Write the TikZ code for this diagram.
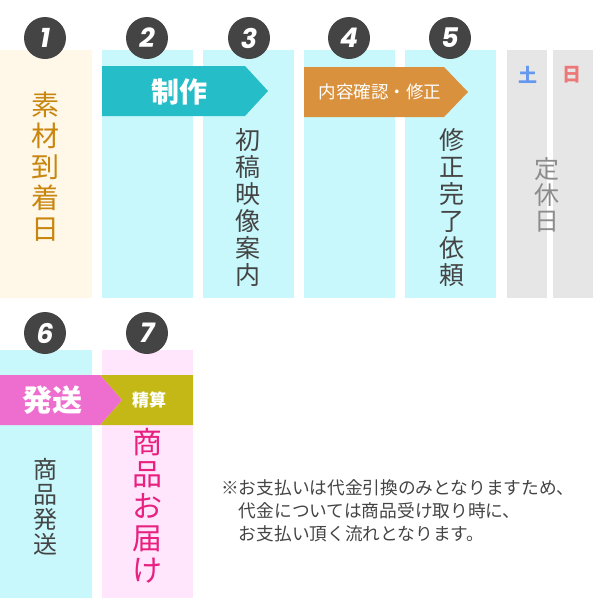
\documentclass[tikz,border=0pt]{standalone}
\usepackage{fontspec}
\setmainfont{Noto Sans CJK JP}
\newfontfamily\numfont{Poppins}
\definecolor{beige}{HTML}{FFF7E8}
\definecolor{lcyan}{HTML}{C8F8FC}
\definecolor{lpink}{HTML}{FFE6FC}
\definecolor{lgray}{HTML}{E6E6E6}
\definecolor{teal}{HTML}{25BDC8}
\definecolor{orng}{HTML}{D9913E}
\definecolor{pinkar}{HTML}{EE6ECF}
\definecolor{olive}{HTML}{C4B816}
\definecolor{gold}{HTML}{C8860F}
\definecolor{dgray}{HTML}{444444}
\definecolor{mag}{HTML}{E8207F}
\tikzset{
  stepnum/.style={circle, fill=dgray, minimum size=42pt, inner sep=0pt, text=white, font=\numfont\bfseries\itshape\fontsize{27}{27}\selectfont},
  vtext/.style={align=center, inner sep=0pt, text=dgray, font=\fontsize{25}{27}\selectfont},
  bandtext/.style={text=white, inner sep=0pt}
}
\begin{document}
\begin{tikzpicture}[x=1pt,y=-1pt]
  \useasboundingbox (0,0) rectangle (600,600);
  % columns, top row
  \fill[beige] (0,50) rectangle (92,298);
  \foreach \l in {102,203,304,405} \fill[lcyan] (\l,50) rectangle ++(91,248);
  \fill[lgray] (507,50) rectangle (547,298);
  \fill[lgray] (553,50) rectangle (593,298);
  % columns, bottom row
  \fill[lcyan] (0,350) rectangle (92,598);
  \fill[lpink] (102,350) rectangle (193,598);
  % bands
  \fill[teal] (102,66) -- (245,66) -- (268,91) -- (245,116) -- (102,116) -- cycle;
  \fill[orng] (304,67) -- (444,67) -- (468,92) -- (444,117) -- (304,117) -- cycle;
  \fill[olive] (100,375) -- (193,375) -- (193,425) -- (100,425) -- (122,400) -- cycle;
  \fill[pinkar] (0,375) -- (100,375) -- (122,400) -- (100,425) -- (0,425) -- cycle;
  \node[bandtext, font=\bfseries\fontsize{28}{28}\selectfont] (seisaku) at (179,92) {制作};
  \node[bandtext, font=\fontsize{17.5}{17.5}\selectfont] (kakunin) at (380,92) {内容確認・修正};
  \node[bandtext, font=\bfseries\fontsize{30}{30}\selectfont] (hassou) at (53,400) {発送};
  \node[bandtext, font=\bfseries\fontsize{17}{17}\selectfont] (seisan) at (149,400) {精算};
  % numbers
  \foreach \n/\px/\py in {1/45/38, 2/147/38, 3/249/38, 4/349/38, 5/450/38, 6/45/333, 7/147/333}
    \node[stepnum] (num\n) at (\px,\py) {\n};
  % column texts
  \node[vtext, anchor=north, text=gold, font=\fontsize{28}{31}\selectfont] (sozai) at (45,92) {素\\材\\到\\着\\日};
  \node[vtext, anchor=north] (shokou) at (248,128) {初\\稿\\映\\像\\案\\内};
  \node[vtext, anchor=north] (shusei) at (452,128) {修\\正\\完\\了\\依\\頼};
  \node[vtext, anchor=north, text=black!45, font=\fontsize{25}{26}\selectfont] (teikyu) at (547,157) {定\\休\\日};
  \node[text={rgb,255:red,102;green,153;blue,238}, font=\bfseries\fontsize{19}{19}\selectfont] (sat) at (528,75) {土};
  \node[text={rgb,255:red,238;green,119;blue,119}, font=\bfseries\fontsize{19}{19}\selectfont] (sun) at (572,75) {日};
  \node[vtext, anchor=north, font=\fontsize{24}{25}\selectfont] (shouhin) at (45,458) {商\\品\\発\\送};
  \node[vtext, anchor=north, text=mag, font=\fontsize{30}{32}\selectfont] (otodoke) at (147,428) {商\\品\\お\\届\\け};
  % note
  \node[anchor=north west, align=left, text=dgray, inner sep=0pt, font=\fontsize{17.7}{23}\selectfont] (note) at (221,479)
    {※お支払いは代金引換のみとなりますため、\\\hspace{1em}代金については商品受け取り時に、\\\hspace{1em}お支払い頂く流れとなります。};
\end{tikzpicture}
\end{document}
